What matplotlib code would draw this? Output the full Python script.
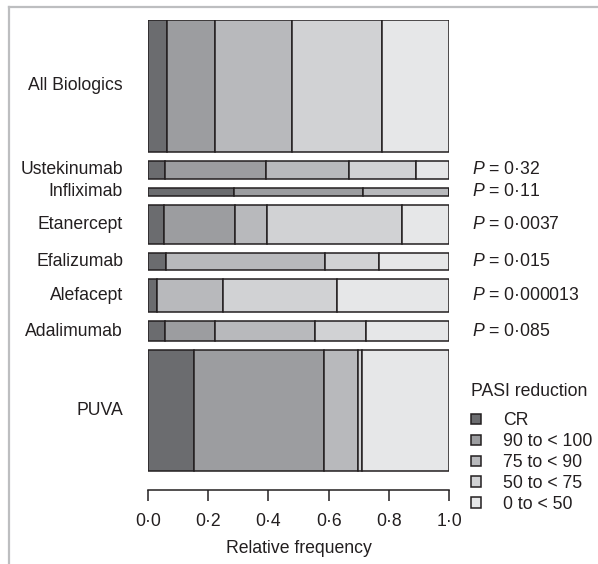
import matplotlib
matplotlib.use("Agg")
import matplotlib.pyplot as plt
from matplotlib.patches import Patch
from matplotlib.lines import Line2D
import numpy as np

plt.rcParams['font.family'] = ['Liberation Sans', 'DejaVu Sans']
plt.rcParams['mathtext.fontset'] = 'custom'
plt.rcParams['mathtext.it'] = 'Liberation Sans:italic'
plt.rcParams['mathtext.rm'] = 'Liberation Sans'

# ---- data ----
categories = ["All Biologics", "Ustekinumab", "Infliximab", "Etanercept",
              "Efalizumab", "Alefacept", "Adalimumab", "PUVA"]
group_size = [131.7, 18.3, 7.7, 39.0, 17.7, 32.7, 20.3, 120.7]
cr   = [0.063, 0.055, 0.286, 0.052, 0.059, 0.031, 0.057, 0.153]
p90  = [0.160, 0.336, 0.429, 0.238, 0.000, 0.000, 0.166, 0.433]
p75  = [0.255, 0.278, 0.285, 0.105, 0.530, 0.219, 0.333, 0.112]
p50  = [0.299, 0.221, 0.000, 0.449, 0.177, 0.377, 0.168, 0.013]
p0   = [0.223, 0.110, 0.000, 0.156, 0.234, 0.373, 0.276, 0.289]
p_values = [None, "0·32", "0·11", "0·0037", "0·015", "0·000013", "0·085", None]
levels = ["CR", "90 to < 100", "75 to < 90", "50 to < 75", "0 to < 50"]
colors = ["#6b6c6f", "#9c9da0", "#b8b9bc", "#d1d2d4", "#e6e7e8"]
xticks = [0.0, 0.2, 0.4, 0.6, 0.8, 1.0]
xticklabels = ["0·0", "0·2", "0·4", "0·6", "0·8", "1·0"]

FS = 12.7
W, H = 598, 564
fig = plt.figure(figsize=(W / 100, H / 100), dpi=100)
ax = fig.add_axes([148 / W, (H - 490) / H, (449 - 148) / W, (490 - 20) / H])

gap = 9.0
sizes = np.array(group_size)
tops = np.concatenate([[0], np.cumsum(sizes + gap)[:-1]])
centers = tops + sizes / 2

series = [cr, p90, p75, p50, p0]
left = np.zeros(len(categories))
ec = "#231f20"
for vals, col, lab in zip(series, colors, levels):
    vals = np.array(vals)
    ax.barh(centers, vals, height=sizes, left=left, color=col,
            edgecolor=ec, linewidth=1.1, label=lab)
    left += vals

ax.set_xlim(0, 1)
ax.set_ylim(470, 0)
for s in ["left", "right", "top"]:
    ax.spines[s].set_visible(False)
ax.spines["bottom"].set_color(ec)
ax.spines["bottom"].set_linewidth(1.1)
ax.set_yticks([])
ax.set_xticks(xticks)
ax.set_xticklabels(xticklabels, fontsize=FS, color=ec)
ax.tick_params(axis="x", direction="out", length=7.7, width=1.1, color=ec, pad=8.5)
ax.set_xlabel("Relative frequency", fontsize=FS, color=ec, labelpad=7.5)

for c, name, pv in zip(centers, categories, p_values):
    ax.text(-0.083, c, name, ha="right", va="center", fontsize=FS, color=ec,
            transform=ax.get_yaxis_transform())
    if pv is not None:
        ax.text(1.076, c, r"$P$ = " + pv, ha="left", va="center", fontsize=FS,
                color=ec, transform=ax.get_yaxis_transform())

handles = [Patch(facecolor=col, edgecolor=ec, linewidth=1.1) for col in colors]
fig.text(471 / W, (H - 391) / H, "PASI reduction", ha="left", va="center",
         fontsize=FS, color=ec)
leg = fig.legend(handles, levels, loc="upper left",
                 bbox_to_anchor=(459 / W, (H - 400) / H), frameon=False,
                 fontsize=FS, handlelength=0.55,
                 handleheight=0.55, handletextpad=1.25, labelspacing=0.22,
                 borderpad=0.2)
for t in leg.get_texts():
    t.set_color(ec)

# panel frame lines (top and left)
fig.add_artist(Line2D([9 / W, 1.0], [(H - 7) / H, (H - 7) / H], color="#bdbec0",
                      linewidth=1.6, transform=fig.transFigure))
fig.add_artist(Line2D([9 / W, 9 / W], [0, (H - 7) / H], color="#bdbec0",
                      linewidth=1.6, transform=fig.transFigure))

fig.savefig("out.png", dpi=100)
